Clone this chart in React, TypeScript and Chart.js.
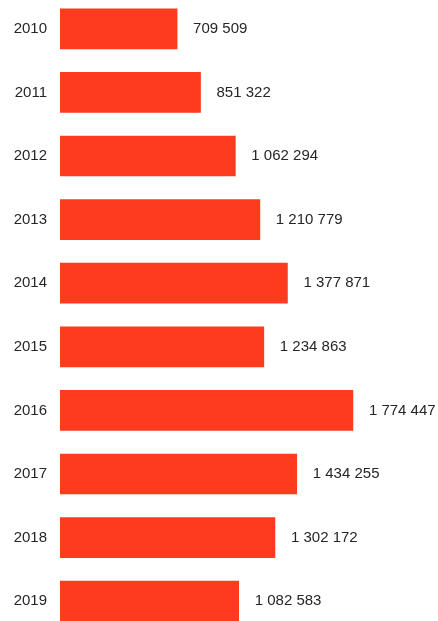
import React, { useEffect, useRef } from "react";
import { Chart, registerables } from "chart.js";

Chart.register(...registerables);

const years = ["2010", "2011", "2012", "2013", "2014", "2015", "2016", "2017", "2018", "2019"];
const values = [709509, 851322, 1062294, 1210779, 1377871, 1234863, 1774447, 1434255, 1302172, 1082583];

const BAR_COLOR = "#FF3B1F";
const TEXT_COLOR = "#262626";
const FONT_FAMILY = "'Liberation Sans', Arial, Helvetica, sans-serif";

const fmt = (v: number) => String(v).replace(/\B(?=(\d{3})+(?!\d))/g, " ");

const valueLabels = {
  id: "valueLabels",
  afterDatasetsDraw(chart: any) {
    const ctx = chart.ctx;
    const meta = chart.getDatasetMeta(0);
    ctx.save();
    ctx.font = `15px ${FONT_FAMILY}`;
    ctx.fillStyle = TEXT_COLOR;
    ctx.textAlign = "left";
    ctx.textBaseline = "middle";
    meta.data.forEach((bar: any, i: number) => {
      ctx.fillText(fmt(values[i]), bar.x + 16, bar.y);
    });
    ctx.restore();
  },
};

export default function App() {
  const ref = useRef<HTMLCanvasElement | null>(null);

  useEffect(() => {
    document.body.style.margin = "0";
    document.body.style.background = "#ffffff";
    if (!ref.current) return;
    const chart = new Chart(ref.current, {
      type: "bar",
      data: {
        labels: years,
        datasets: [
          {
            data: values,
            backgroundColor: BAR_COLOR,
            borderWidth: 0,
            barThickness: 40,
          },
        ],
      },
      options: {
        indexAxis: "y",
        animation: false,
        responsive: false,
        maintainAspectRatio: false,
        devicePixelRatio: 1,
        layout: { padding: 0, autoPadding: false },
        plugins: {
          legend: { display: false },
          tooltip: { enabled: false },
        },
        scales: {
          x: {
            display: false,
            min: 0,
            max: 2290000,
          },
          y: {
            offset: true,
            grid: { display: false, drawTicks: false },
            border: { display: false },
            ticks: {
              color: TEXT_COLOR,
              font: { family: FONT_FAMILY, size: 15 },
              padding: 13,
            },
            afterFit(scale: any) {
              scale.width = 60;
              scale.paddingTop = 0;
              scale.paddingBottom = 0;
            },
          },
        },
      },
      plugins: [valueLabels],
    });
    return () => chart.destroy();
  }, []);

  return (
    <div style={{ position: "absolute", top: -3, left: 0, width: 438, height: 636 }}>
      <canvas ref={ref} width={438} height={636} style={{ display: "block", width: 438, height: 636 }} />
    </div>
  );
}
